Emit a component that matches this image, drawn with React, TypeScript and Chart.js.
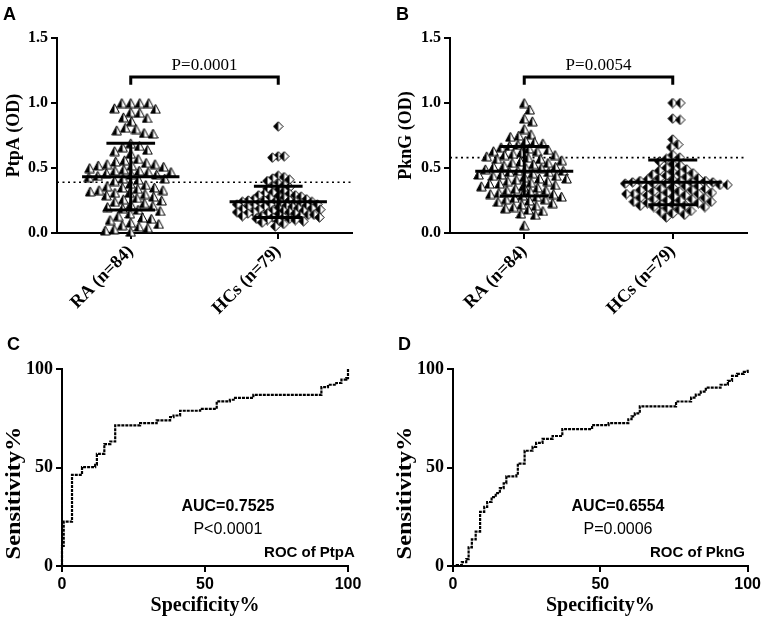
import React, { useEffect, useRef } from 'react';
import { Chart, registerables } from 'chart.js';
Chart.register(...registerables);

const SERIF = '"Liberation Serif", "Times New Roman", serif';
const SANS = '"Liberation Sans", Arial, sans-serif';

// ---------- Panels A & B (dot plots) ----------
const groupLabels = ['RA (n=84)', 'HCs (n=79)'];
const odTicks = [0, 0.5, 1.0, 1.5];

const ptpaRA = [
  1.0, 1.0, 1.0, 1.0, 0.96, 0.955, 0.93, 0.925, 0.89, 0.885, 0.86, 0.81, 0.80, 0.79, 0.77, 0.765,
  0.69, 0.67, 0.66, 0.64, 0.63, 0.61,
  0.57, 0.56, 0.55, 0.54, 0.53, 0.53, 0.52, 0.52, 0.51, 0.50,
  0.49, 0.48, 0.48, 0.47, 0.47, 0.46, 0.45, 0.45, 0.44, 0.43, 0.42, 0.42, 0.41, 0.40,
  0.38, 0.37, 0.36, 0.35, 0.35, 0.34, 0.33, 0.33, 0.32, 0.31, 0.31, 0.30,
  0.29, 0.28, 0.27, 0.26, 0.25, 0.24, 0.23, 0.22, 0.21, 0.20,
  0.19, 0.18, 0.17, 0.15, 0.13, 0.12, 0.11, 0.10,
  0.08, 0.07, 0.06, 0.05, 0.04, 0.03, 0.02, 0.01,
];
const ptpaHCs = [
  0.82, 0.59, 0.59, 0.58, 0.44, 0.43, 0.42, 0.41, 0.40, 0.38, 0.37, 0.36, 0.35, 0.34, 0.33, 0.32, 0.31,
  0.30, 0.30, 0.29, 0.29, 0.28, 0.28, 0.27, 0.27, 0.26, 0.26, 0.25, 0.25, 0.25, 0.24, 0.24, 0.24, 0.24,
  0.23, 0.23, 0.23, 0.22, 0.22, 0.22, 0.21, 0.21, 0.21, 0.20, 0.20, 0.20, 0.19, 0.19, 0.19, 0.18, 0.18, 0.18,
  0.17, 0.17, 0.17, 0.16, 0.16, 0.16, 0.15, 0.15, 0.15, 0.14, 0.14, 0.14, 0.13, 0.13, 0.13, 0.12, 0.12, 0.12,
  0.11, 0.11, 0.10, 0.10, 0.09, 0.09, 0.08, 0.07, 0.05,
];
const pkngRA = [
  1.0, 0.95, 0.88, 0.86, 0.80, 0.76, 0.75, 0.74, 0.71, 0.70,
  0.69, 0.68, 0.67, 0.66, 0.65, 0.64, 0.63, 0.63, 0.62, 0.61,
  0.60, 0.60, 0.59, 0.58, 0.57, 0.57, 0.56, 0.55, 0.54, 0.54,
  0.53, 0.52, 0.51, 0.51, 0.50, 0.50, 0.49, 0.48, 0.48, 0.47,
  0.47, 0.46, 0.45, 0.45, 0.44, 0.44, 0.43, 0.42, 0.42, 0.41,
  0.40, 0.40, 0.39, 0.38, 0.38, 0.37, 0.36, 0.36, 0.35, 0.34,
  0.33, 0.33, 0.32, 0.31, 0.30, 0.30, 0.29, 0.28, 0.28, 0.27,
  0.26, 0.26, 0.25, 0.24, 0.23, 0.22, 0.21, 0.20, 0.19, 0.18,
  0.17, 0.15, 0.14, 0.06,
];
const pkngHCs = [
  1.0, 1.0, 0.88, 0.87, 0.72, 0.68, 0.66, 0.60, 0.58, 0.57,
  0.55, 0.53, 0.52, 0.50, 0.49, 0.48, 0.47, 0.46, 0.46, 0.45,
  0.44, 0.43, 0.42, 0.42, 0.41, 0.41, 0.40, 0.40, 0.40, 0.39,
  0.39, 0.39, 0.38, 0.38, 0.38, 0.37, 0.37, 0.36, 0.36, 0.35,
  0.35, 0.34, 0.34, 0.33, 0.33, 0.32, 0.32, 0.31, 0.31, 0.30,
  0.30, 0.30, 0.29, 0.29, 0.28, 0.28, 0.27, 0.27, 0.26, 0.26,
  0.25, 0.25, 0.24, 0.24, 0.23, 0.23, 0.22, 0.22, 0.21, 0.21,
  0.20, 0.20, 0.19, 0.18, 0.17, 0.16, 0.15, 0.14, 0.12,
];
const ptpaMean = [0.433, 0.24];
const ptpaSD = [0.257, 0.12];
const pkngMean = [0.475, 0.39];
const pkngSD = [0.19, 0.172];
const ptpaCutoff = 0.39;
const pkngCutoff = 0.58;
const ptpaPText = 'P=0.0001';
const pkngPText = 'P=0.0054';

// ---------- Panels C & D (ROC curves) ----------
const rocTicks = [0, 50, 100];
const rocPtpaX = [0, 0, 0.6, 3.5, 7.0, 11.6, 12.2, 14.8, 16.9, 18.6, 27.3, 33.1, 37.8, 39.0, 41.3, 48.3, 54.1, 58.7, 60.5, 66.9, 90.7, 93.0, 95.9, 97.7, 99.4, 100];
const rocPtpaY = [0, 10.2, 22.5, 46.3, 50.2, 51.4, 56.9, 61.9, 63.2, 71.4, 72.5, 73.9, 75.6, 76.4, 78.8, 79.8, 83.6, 84.4, 85.3, 86.9, 90.8, 92.0, 92.9, 94.6, 95.4, 100];
const rocPkngX = [0, 1.3, 3, 4.5, 5.3, 6.4, 7.7, 9.2, 10.6, 11.6, 13.1, 14.5, 15.9, 17.2, 18.1, 21.5, 22, 24.3, 27, 28.2, 30.4, 33.8, 37.1, 47.2, 52.8, 59.5, 60.6, 61.7, 63.4, 75.7, 80.8, 82.4, 84.1, 85.8, 90.8, 93.3, 94.7, 96.4, 98.7, 100];
const rocPkngY = [0, 0.5, 2, 3.5, 9.5, 13.5, 17.5, 27.5, 30, 32.5, 35, 37, 39.5, 42, 45.5, 46, 52, 58.5, 60.5, 62.5, 64.5, 66, 69.5, 71.5, 72.5, 74.5, 76, 77.5, 81, 83.5, 85.5, 87, 88.5, 90.5, 92, 94, 96.5, 97.5, 98.5, 100];
const ptpaAUC = 'AUC=0.7525';
const ptpaRocP = 'P<0.0001';
const pkngAUC = 'AUC=0.6554';
const pkngRocP = 'P=0.0006';

// ---------- helpers ----------
function makeMarker(kind: 'tri' | 'dia'): HTMLCanvasElement {
  const w = 11, h = 11;
  const c = document.createElement('canvas');
  c.width = w; c.height = h;
  const g = c.getContext('2d')!;
  const path = () => {
    g.beginPath();
    if (kind === 'tri') { g.moveTo(5.5, 1); g.lineTo(10.3, 10); g.lineTo(0.7, 10); }
    else { g.moveTo(5.5, 0.8); g.lineTo(10.2, 5.5); g.lineTo(5.5, 10.2); g.lineTo(0.8, 5.5); }
    g.closePath();
  };
  path(); g.fillStyle = '#fff'; g.fill();
  g.save(); path(); g.clip(); g.fillStyle = '#000'; g.fillRect(0, 0, 5.5, h); g.restore();
  path(); g.lineWidth = 1; g.strokeStyle = '#000'; g.stroke();
  return c;
}

// beeswarm layout: returns horizontal offsets (x units) so markers don't collide
function swarm(values: number[], pxPerY: number, pxPerX: number, d: number): number[] {
  const idx = values.map((_, i) => i).sort((a, b) => values[b] - values[a]);
  const placed: { x: number; y: number }[] = [];
  const out = new Array(values.length).fill(0);
  for (const i of idx) {
    const y = values[i] * pxPerY;
    const cands = [0];
    for (const p of placed) {
      const dy = y - p.y;
      if (Math.abs(dy) < d) {
        const dx = Math.sqrt(d * d - dy * dy);
        cands.push(p.x + dx, p.x - dx);
      }
    }
    cands.sort((a, b) => Math.abs(a) - Math.abs(b));
    let best = 0;
    for (const c of cands) {
      if (placed.every(p => (p.x - c) ** 2 + (p.y - y) ** 2 >= d * d - 1e-6)) { best = c; break; }
    }
    placed.push({ x: best, y });
    out[i] = best / pxPerX;
  }
  return out;
}

type TItem = { text: string; x: number; y: number; data?: boolean; font: string; align?: CanvasTextAlign; baseline?: CanvasTextBaseline; rotate?: number; stretch?: number };
function textPlugin(items: TItem[]) {
  return {
    id: 'texts',
    afterDraw(chart: any) {
      const ctx = chart.ctx;
      ctx.save();
      ctx.fillStyle = '#000';
      for (const t of items) {
        const px = t.data ? chart.scales.x.getPixelForValue(t.x) : t.x;
        const py = t.data ? chart.scales.y.getPixelForValue(t.y) : t.y;
        ctx.save();
        ctx.translate(px, py);
        if (t.rotate) ctx.rotate(t.rotate);
        if (t.stretch) ctx.scale(t.stretch, 1);
        ctx.font = t.font;
        ctx.textAlign = t.align || 'center';
        ctx.textBaseline = t.baseline || 'middle';
        ctx.fillText(t.text, 0, 0);
        ctx.restore();
      }
      ctx.restore();
    },
  };
}

const axisGrid = { drawOnChartArea: false, drawTicks: true, tickLength: 6, color: '#000', tickColor: '#000', lineWidth: 2, tickWidth: 2 };
const axisBorder = { display: true, color: '#000', width: 2 };

function barSegments(cx: number, m: number, s: number) {
  return [
    { x: cx - 0.33, y: m }, { x: cx + 0.33, y: m }, { x: cx, y: null },
    { x: cx - 0.165, y: m + s }, { x: cx + 0.165, y: m + s }, { x: cx, y: null },
    { x: cx - 0.165, y: m - s }, { x: cx + 0.165, y: m - s }, { x: cx, y: null },
    { x: cx, y: m + s }, { x: cx, y: m - s },
  ];
}

function dotPlotConfig(p: {
  ra: number[]; hcs: number[]; mean: number[]; sd: number[]; cutoff: number; pText: string;
  yTitle: string; letter: string; yWidth: number; padRight: number; dRA: number; dHC: number;
}) {
  const pxPerY = 130, pxPerX = 148;
  const tri = makeMarker('tri');
  const dia = makeMarker('dia');
  const offRA = swarm(p.ra, pxPerY, pxPerX, p.dRA);
  const offHC = swarm(p.hcs, pxPerY, pxPerX, p.dHC);
  const lineDs = (data: any[], width = 3, dash: number[] = []) => ({
    type: 'line', data, showLine: true, borderColor: '#000', borderWidth: width, borderDash: dash,
    pointRadius: 0, fill: false, spanGaps: false, clip: false, borderCapStyle: 'butt', borderJoinStyle: 'miter',
  });
  return {
    type: 'scatter',
    data: {
      datasets: [
        lineDs([{ x: 1, y: 1.14 }, { x: 1, y: 1.2 }, { x: 2, y: 1.2 }, { x: 2, y: 1.14 }], 3),
        lineDs(barSegments(1, p.mean[0], p.sd[0]), 3),
        lineDs(barSegments(2, p.mean[1], p.sd[1]), 3),
        { data: p.ra.map((v, i) => ({ x: 1 + offRA[i], y: v })), pointStyle: tri, pointRadius: 5, clip: false },
        { data: p.hcs.map((v, i) => ({ x: 2 + offHC[i], y: v })), pointStyle: dia, pointRadius: 5, clip: false },
        lineDs([{ x: 0.5, y: p.cutoff }, { x: 2.5, y: p.cutoff }], 1.6, [2, 3.5]),
      ],
    },
    options: {
      animation: false, responsive: false, events: [],
      layout: { padding: { left: 0, right: p.padRight, top: 38, bottom: 0 } },
      plugins: { legend: { display: false }, tooltip: { enabled: false } },
      scales: {
        x: {
          type: 'linear', min: 0.5, max: 2.5,
          afterBuildTicks: (s: any) => { s.ticks = [{ value: 1 }, { value: 2 }]; },
          afterFit: (s: any) => { s.height = 97; },
          ticks: {
            autoSkip: false, minRotation: 45, maxRotation: 45, color: '#000', padding: 2,
            font: { family: SERIF, size: 18, weight: 'bold' },
            callback: (_v: any, i: number) => groupLabels[i],
          },
          grid: axisGrid, border: axisBorder,
        },
        y: {
          type: 'linear', min: 0, max: 1.5,
          afterBuildTicks: (s: any) => { s.ticks = odTicks.map(v => ({ value: v })); },
          afterFit: (s: any) => { s.width = p.yWidth; },
          ticks: { color: '#000', padding: 3, font: { family: SERIF, size: 16, weight: 'bold' }, callback: (v: any) => Number(v).toFixed(1) },
          grid: axisGrid, border: axisBorder,
          title: { display: true, text: p.yTitle, color: '#000', font: { family: SERIF, size: 18, weight: 'bold' }, padding: { top: 4, bottom: 0 } },
        },
      },
    },
    plugins: [textPlugin([
      { text: p.letter, x: p.yWidth - 54, y: 20, font: `bold 18px ${SANS}`, align: 'left', baseline: 'alphabetic' },
      { text: p.pText, x: 1.5, y: 1.29, data: true, font: `17px ${SERIF}` },
    ])],
  };
}

function rocConfig(p: {
  xs: number[]; ys: number[]; auc: string; pText: string; name: string; letter: string;
  padRight: number; textX: number; nameX: number;
}) {
  return {
    type: 'scatter',
    data: {
      datasets: [{
        type: 'line', data: p.xs.map((x, i) => ({ x, y: p.ys[i] })), showLine: true, stepped: 'before',
        borderColor: '#000', borderWidth: 2.2, borderDash: [3, 1], pointRadius: 0, fill: false, clip: false,
      }],
    },
    options: {
      animation: false, responsive: false, events: [],
      layout: { padding: { left: 0, right: p.padRight, top: 39, bottom: 0 } },
      plugins: { legend: { display: false }, tooltip: { enabled: false } },
      scales: {
        x: {
          type: 'linear', min: 0, max: 100,
          afterBuildTicks: (s: any) => { s.ticks = rocTicks.map(v => ({ value: v })); },
          afterFit: (s: any) => { s.height = 52; },
          ticks: { color: '#000', padding: 3, maxRotation: 0, minRotation: 0, font: { family: SANS, size: 16, weight: 'bold' } },
          grid: axisGrid, border: axisBorder,
          title: { display: true, text: 'Specificity%', color: '#000', font: { family: SERIF, size: 20, weight: 'bold' }, padding: { top: 0, bottom: 0 } },
        },
        y: {
          type: 'linear', min: 0, max: 100,
          afterBuildTicks: (s: any) => { s.ticks = rocTicks.map(v => ({ value: v })); },
          afterFit: (s: any) => { s.width = 62; },
          ticks: { color: '#000', padding: 3, font: { family: SERIF, size: 18, weight: 'bold' } },
          grid: axisGrid, border: axisBorder,
        },
      },
    },
    plugins: [textPlugin([
      { text: p.letter, x: 7, y: 20, font: `bold 18px ${SANS}`, align: 'left', baseline: 'alphabetic' },
      { text: 'Sensitivity%', x: 15, y: 163, font: `bold 20px ${SERIF}`, rotate: -Math.PI / 2, stretch: 1.22 },
      { text: p.auc, x: p.textX, y: 30, data: true, font: `bold 16px ${SANS}` },
      { text: p.pText, x: p.textX, y: 18.3, data: true, font: `16px ${SANS}` },
      { text: p.name, x: p.nameX, y: 6.7, data: true, font: `bold 15px ${SANS}`, align: 'right' },
    ])],
  };
}

function ChartBox({ make, left, top, width, height }: { make: () => any; left: number; top: number; width: number; height: number }) {
  const ref = useRef<HTMLCanvasElement>(null);
  useEffect(() => {
    const chart = new Chart(ref.current as HTMLCanvasElement, make());
    return () => chart.destroy();
  }, []);
  return <canvas ref={ref} width={width} height={height} style={{ position: 'absolute', left, top, width, height, display: 'block' }} />;
}

export default function App() {
  return (
    <div style={{ position: 'fixed', left: 0, top: 0, width: 764, height: 618, background: '#fff', overflow: 'hidden' }}>
      <ChartBox left={0} top={0} width={380} height={330} make={() => dotPlotConfig({
        ra: ptpaRA, hcs: ptpaHCs, mean: ptpaMean, sd: ptpaSD, cutoff: ptpaCutoff, pText: ptpaPText,
        yTitle: 'PtpA (OD)', letter: 'A', yWidth: 57, padRight: 28, dRA: 9, dHC: 6,
      })} />
      <ChartBox left={392} top={0} width={372} height={330} make={() => dotPlotConfig({
        ra: pkngRA, hcs: pkngHCs, mean: pkngMean, sd: pkngSD, cutoff: pkngCutoff, pText: pkngPText,
        yTitle: 'PknG (OD)', letter: 'B', yWidth: 58, padRight: 17, dRA: 8.5, dHC: 7.5,
      })} />
      <ChartBox left={0} top={330} width={380} height={288} make={() => rocConfig({
        xs: rocPtpaX, ys: rocPtpaY, auc: ptpaAUC, pText: ptpaRocP, name: 'ROC of PtpA', letter: 'C',
        padRight: 32, textX: 58, nameX: 102.4,
      })} />
      <ChartBox left={391} top={330} width={373} height={288} make={() => rocConfig({
        xs: rocPkngX, ys: rocPkngY, auc: pkngAUC, pText: pkngRocP, name: 'ROC of PknG', letter: 'D',
        padRight: 13, textX: 56, nameX: 99.1,
      })} />
    </div>
  );
}
